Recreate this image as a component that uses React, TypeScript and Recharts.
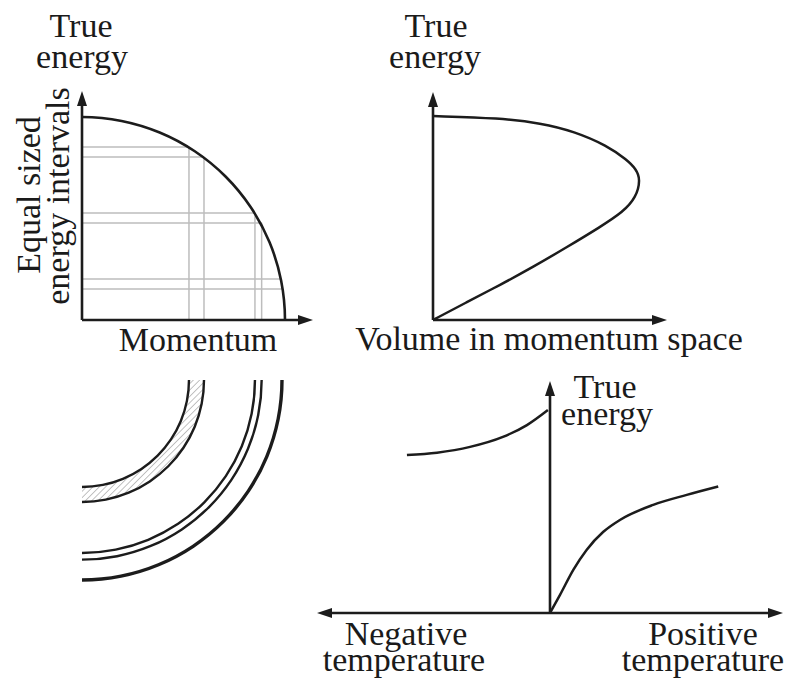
import React from "react";
import { LineChart, Line, XAxis, YAxis, ReferenceLine, PieChart, Pie } from "recharts";

// Energy vs momentum: the equal energy intervals and where each one meets the curve
const levelEnergy = [0.852, 0.803, 0.527, 0.478, 0.202, 0.153];
const levelMomentum = [0.527, 0.601, 0.852, 0.887, 0.98, 0.988];

// Momentum shells belonging to the first two intervals (and the energy they reach)
const shellInner = [0.527, 0.852];
const shellOuter = [0.601, 0.885];
const shellInnerEnergy = [0.852, 0.527];
const shellOuterEnergy = [0.803, 0.478];
const maxMomentum = 1;

// Energy vs volume in momentum space, traced from the origin round to the top
const volume = [0, 0.166, 0.327, 0.488, 0.654, 0.815, 0.927, 0.99, 1.012, 0.99, 0.946, 0.849, 0.688, 0.527, 0.327, 0];
const volumeEnergy = [0, 0.088, 0.172, 0.26, 0.358, 0.456, 0.53, 0.6, 0.69, 0.74, 0.785, 0.855, 0.925, 0.965, 0.99, 1.0];

// Energy vs temperature, the two branches
const negTemp = [-0.614, -0.485, -0.343, -0.202, -0.099, -0.009];
const negEnergy = [0.681, 0.691, 0.716, 0.759, 0.81, 0.875];
const posTemp = [0, 0.043, 0.1, 0.157, 0.229, 0.3, 0.443, 0.587, 0.722];
const posEnergy = [0, 0.078, 0.186, 0.272, 0.35, 0.401, 0.466, 0.509, 0.545];

const W = 787;
const H = 686;
const INK = "#1c1c1c";
const FONT = "'Liberation Serif', 'Times New Roman', serif";
const PX_PER_MOMENTUM = 203;

const volumeData = volume.map((v, i) => ({ v, e: volumeEnergy[i] }));
const negData = negTemp.map((t, i) => ({ t, e: negEnergy[i] }));
const posData = posTemp.map((t, i) => ({ t, e: posEnergy[i] }));

const HEAD_LEN = 15;
const HEAD_W = 5;

const headPoints = (tx: number, ty: number, ux: number, uy: number) => {
  const bx = tx - ux * HEAD_LEN;
  const by = ty - uy * HEAD_LEN;
  return `${tx},${ty} ${bx - uy * HEAD_W},${by + ux * HEAD_W} ${bx + uy * HEAD_W},${by - ux * HEAD_W}`;
};

// axis line with a filled arrowhead at the end (or both ends)
const arrowAxis = (both: boolean) => (props: any) => {
  const { x1, y1, x2, y2 } = props;
  const len = Math.hypot(x2 - x1, y2 - y1) || 1;
  const ux = (x2 - x1) / len;
  const uy = (y2 - y1) / len;
  const sx = both ? x1 + ux * (HEAD_LEN - 2) : x1;
  const sy = both ? y1 + uy * (HEAD_LEN - 2) : y1;
  return (
    <g>
      <line
        x1={sx}
        y1={sy}
        x2={x2 - ux * (HEAD_LEN - 2)}
        y2={y2 - uy * (HEAD_LEN - 2)}
        stroke={INK}
        strokeWidth={2.6}
      />
      <polygon points={headPoints(x2, y2, ux, uy)} fill={INK} />
      {both && <polygon points={headPoints(x1, y1, -ux, -uy)} fill={INK} />}
    </g>
  );
};

const Label = ({ x, y, children, rotate }: { x: number; y: number; children: string; rotate?: boolean }) => (
  <text
    x={x}
    y={y}
    textAnchor="middle"
    fontFamily={FONT}
    fontSize={34}
    fill="#1a1a1a"
    transform={rotate ? `rotate(-90 ${x} ${y})` : undefined}
  >
    {children}
  </text>
);

const layer: React.CSSProperties = { position: "absolute", left: 0, top: 0 };

const ring = (r: number, thick: number) => ({ innerRadius: r - thick / 2, outerRadius: r + thick / 2 });

export default function App() {
  const one = [{ value: 1 }];
  return (
    <div style={{ position: "absolute", left: 0, top: 0, width: W, height: H, background: "#fff" }}>
      {/* energy vs momentum: axes and interval grid */}
      <div style={layer}>
        <LineChart width={W} height={H} margin={{ left: 82, top: 91, right: W - 313, bottom: H - 320 }}>
          <XAxis type="number" dataKey="p" domain={[0, 1.138]} allowDataOverflow hide />
          <YAxis type="number" dataKey="e" domain={[0, 1.128]} allowDataOverflow hide />
          {levelEnergy.map((e, i) => (
            <ReferenceLine
              key={"h" + i}
              segment={[{ x: 0, y: e }, { x: levelMomentum[i], y: e }]}
              stroke="#bdbdbd"
              strokeWidth={1.5}
              ifOverflow="visible"
            />
          ))}
          {[...shellInner, ...shellOuter].map((p, i) => (
            <ReferenceLine
              key={"v" + i}
              segment={[{ x: p, y: 0 }, { x: p, y: [...shellInnerEnergy, ...shellOuterEnergy][i] }]}
              stroke="#bdbdbd"
              strokeWidth={1.5}
              ifOverflow="visible"
            />
          ))}
          <ReferenceLine segment={[{ x: 0, y: 0 }, { x: 1.138, y: 0 }]} shape={arrowAxis(false)} ifOverflow="visible" />
          <ReferenceLine segment={[{ x: 0, y: 0 }, { x: 0, y: 1.128 }]} shape={arrowAxis(false)} ifOverflow="visible" />
          <Label x={81} y={37}>True</Label>
          <Label x={82} y={68}>energy</Label>
          <Label x={40} y={195} rotate>Equal sized</Label>
          <Label x={69} y={196} rotate>energy intervals</Label>
          <Label x={198} y={351}>Momentum</Label>
        </LineChart>
      </div>

      {/* energy vs volume in momentum space */}
      <div style={layer}>
        <LineChart width={W} height={H} margin={{ left: 433, top: 92, right: W - 667, bottom: H - 320 }}>
          <XAxis type="number" dataKey="v" domain={[0, 1.141]} allowDataOverflow hide />
          <YAxis type="number" dataKey="e" domain={[0, 1.118]} allowDataOverflow hide />
          <ReferenceLine segment={[{ x: 0, y: 0 }, { x: 1.141, y: 0 }]} shape={arrowAxis(false)} ifOverflow="visible" />
          <ReferenceLine segment={[{ x: 0, y: 0 }, { x: 0, y: 1.118 }]} shape={arrowAxis(false)} ifOverflow="visible" />
          <Line
            data={volumeData}
            dataKey="e"
            type="basis"
            stroke={INK}
            strokeWidth={2.5}
            dot={false}
            isAnimationActive={false}
          />
          <Label x={436} y={37}>True</Label>
          <Label x={435} y={68}>energy</Label>
          <Label x={549} y={350}>Volume in momentum space</Label>
        </LineChart>
      </div>

      {/* energy vs temperature */}
      <div style={layer}>
        <LineChart width={W} height={H} margin={{ left: 317, top: 381, right: W - 783, bottom: H - 613 }}>
          <XAxis type="number" dataKey="t" domain={[-1, 1]} allowDataOverflow hide />
          <YAxis type="number" dataKey="e" domain={[0, 1]} allowDataOverflow hide />
          <ReferenceLine segment={[{ x: -1, y: 0 }, { x: 1, y: 0 }]} shape={arrowAxis(true)} ifOverflow="visible" />
          <ReferenceLine segment={[{ x: 0, y: 0 }, { x: 0, y: 1 }]} shape={arrowAxis(false)} ifOverflow="visible" />
          <Line data={negData} dataKey="e" type="monotone" stroke={INK} strokeWidth={2.5} dot={false} isAnimationActive={false} />
          <Line data={posData} dataKey="e" type="monotone" stroke={INK} strokeWidth={2.5} dot={false} isAnimationActive={false} />
          <Label x={605} y={398}>True</Label>
          <Label x={607} y={425}>energy</Label>
          <Label x={406} y={645}>Negative</Label>
          <Label x={404} y={671}>temperature</Label>
          <Label x={703} y={645}>Positive</Label>
          <Label x={703} y={671}>temperature</Label>
        </LineChart>
      </div>

      {/* quarter circle and the momentum shells */}
      <div style={layer}>
        <PieChart width={W} height={H} margin={{ top: 0, right: 0, bottom: 0, left: 0 }}>
          <defs>
            <pattern id="hatch" width="4.5" height="4.5" patternUnits="userSpaceOnUse" patternTransform="rotate(45)">
              <line x1="0" y1="0" x2="0" y2="4.5" stroke="#a8a8a8" strokeWidth="1.4" />
            </pattern>
          </defs>
          <Pie
            data={one}
            dataKey="value"
            cx={82}
            cy={320}
            {...ring(maxMomentum * PX_PER_MOMENTUM, 2.6)}
            startAngle={90}
            endAngle={0}
            fill={INK}
            stroke="none"
            isAnimationActive={false}
          />
          <Pie
            data={one}
            dataKey="value"
            cx={82}
            cy={380}
            innerRadius={shellInner[0] * PX_PER_MOMENTUM}
            outerRadius={shellOuter[0] * PX_PER_MOMENTUM}
            startAngle={0}
            endAngle={-90}
            fill="url(#hatch)"
            stroke="none"
            isAnimationActive={false}
          />
          {[...shellInner, ...shellOuter].map((p, i) => (
            <Pie
              key={i}
              data={one}
              dataKey="value"
              cx={82}
              cy={380}
              {...ring(p * PX_PER_MOMENTUM, 2.4)}
              startAngle={0}
              endAngle={-90}
              fill={INK}
              stroke="none"
              isAnimationActive={false}
            />
          ))}
          <Pie
            data={one}
            dataKey="value"
            cx={82}
            cy={380}
            {...ring(maxMomentum * 200, 3.4)}
            startAngle={0}
            endAngle={-90}
            fill={INK}
            stroke="none"
            isAnimationActive={false}
          />
        </PieChart>
      </div>
    </div>
  );
}
